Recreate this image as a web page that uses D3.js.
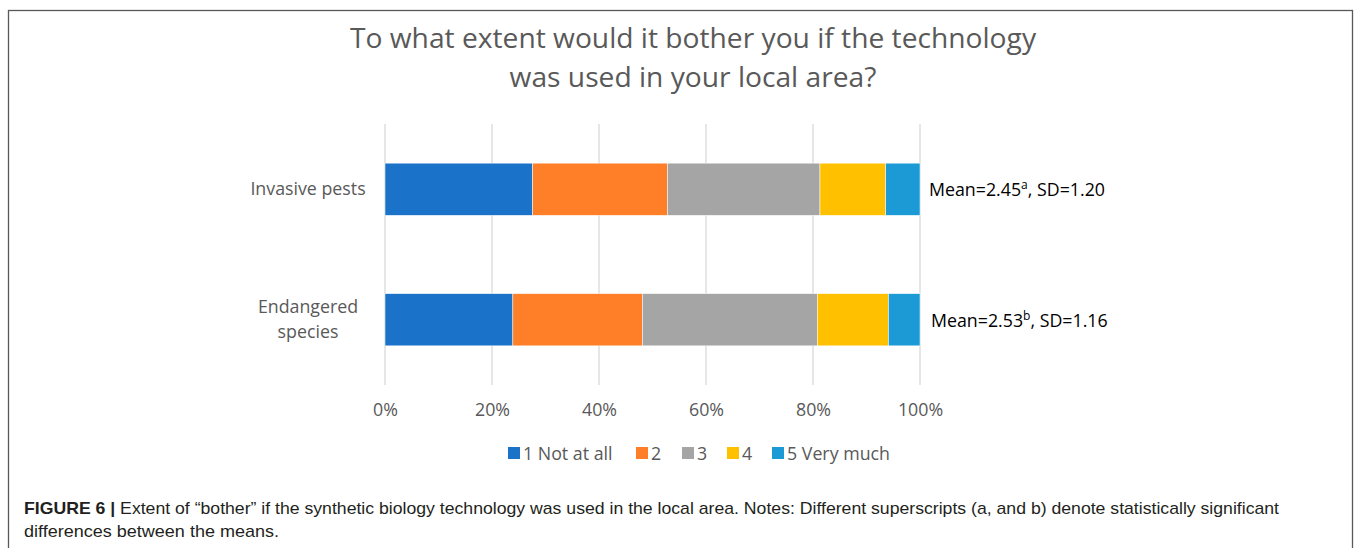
<!DOCTYPE html>
<html>
<head>
<meta charset="utf-8">
<script src="https://d3js.org/d3.v7.min.js"></script>
<style>
  body { margin: 0; background: #fff; }
  svg { display: block; }
</style>
</head>
<body>
<div id="chart"></div>
<script>
// dane (procenty)
const categories = ["Invasive pests", "Endangered species"];
const categoryLines = [["Invasive pests"], ["Endangered", "species"]];
const levels = ["1 Not at all", "2", "3", "4", "5 Very much"];
const invasive = [27.6, 25.2, 28.5, 12.3, 6.4];
const endangered = [23.9, 24.2, 32.7, 13.3, 5.9];
const means = ["2.45", "2.53"];
const meanSup = ["a", "b"];
const sds = ["1.20", "1.16"];
const ticks = [0, 20, 40, 60, 80, 100];
const colors = ["#1a73c8", "#fe7f27", "#a5a5a5", "#ffc000", "#1b9ad6"];

const width = 1354, height = 548;
const svg = d3.select("#chart").append("svg")
    .attr("width", width).attr("height", height);

// ramka
svg.append("rect")
    .attr("x", 8.5).attr("y", 10.5)
    .attr("width", 1344).attr("height", 560)
    .attr("fill", "none").attr("stroke", "#595959").attr("stroke-width", 1.3);

const chartFont = "'Open Sans', 'Noto Sans', sans-serif";
const fs = 17.8;

// tytuł
svg.append("text")
    .attr("x", 693).attr("y", 48)
    .attr("text-anchor", "middle")
    .attr("font-family", chartFont).attr("font-size", 28.2)
    .attr("fill", "#595959")
    .text("To what extent would it bother you if the technology");
svg.append("text")
    .attr("x", 693).attr("y", 87)
    .attr("text-anchor", "middle")
    .attr("font-family", chartFont).attr("font-size", 28.2)
    .attr("fill", "#595959")
    .text("was used in your local area?");

const x = d3.scaleLinear().domain([0, 100]).range([385, 920]);
const y = d3.scaleBand().domain(categories).range([124, 385]).paddingInner(0.6).paddingOuter(0.3);

// siatka
svg.selectAll(".grid")
    .data(ticks)
    .enter()
    .append("line")
    .attr("class", "grid")
    .attr("x1", d => x(d)).attr("x2", d => x(d))
    .attr("y1", 124).attr("y2", 385)
    .attr("stroke", "#d9d9d9").attr("stroke-width", 1.3);

// etykiety osi x
const xAxis = svg.append("g")
    .attr("transform", "translate(0,385)")
    .call(d3.axisBottom(x).tickValues(ticks).tickFormat(d => d + "%").tickSize(0).tickPadding(18));
xAxis.select(".domain").remove();
xAxis.selectAll("text")
    .attr("font-family", chartFont).attr("font-size", fs)
    .attr("fill", "#595959");

// słupki
const rows = [invasive, endangered];
rows.forEach((vals, i) => {
    let acc = 0;
    const segs = vals.map((v, j) => {
        const s = { start: acc, end: acc + v, color: colors[j] };
        acc += v;
        return s;
    });
    svg.selectAll(".seg" + i)
        .data(segs)
        .enter()
        .append("rect")
        .attr("class", "seg" + i)
        .attr("x", d => x(d.start))
        .attr("width", d => x(Math.min(d.end, 100)) - x(d.start))
        .attr("y", y(categories[i]))
        .attr("height", y.bandwidth())
        .attr("fill", d => d.color)
        .attr("stroke", "#fff").attr("stroke-width", 0.5);
});

// etykiety kategorii
categories.forEach((c, i) => {
    const lines = categoryLines[i];
    const cy = y(c) + y.bandwidth() / 2;
    const t = svg.append("text")
        .attr("text-anchor", "middle")
        .attr("font-family", chartFont).attr("font-size", fs)
        .attr("fill", "#595959");
    lines.forEach((l, k) => {
        t.append("tspan")
            .attr("x", 308)
            .attr("y", cy + 6 + (k - (lines.length - 1) / 2) * 25)
            .text(l);
    });
});

// średnie i SD
categories.forEach((c, i) => {
    const cy = y(c) + y.bandwidth() / 2;
    const t = svg.append("text")
        .attr("x", 929 + i * 2).attr("y", cy + 7)
        .attr("font-family", chartFont).attr("font-size", fs)
        .attr("fill", "#000");
    t.append("tspan").text("Mean=" + means[i]);
    t.append("tspan").attr("font-size", 12).attr("dy", -7).text(meanSup[i]);
    t.append("tspan").attr("dy", 7).text(", SD=" + sds[i]);
});

// legenda
const legendItems = [
    { label: levels[0], x: 508 },
    { label: levels[1], x: 636 },
    { label: levels[2], x: 682 },
    { label: levels[3], x: 727 },
    { label: levels[4], x: 772 }
];
const leg = svg.selectAll(".leg")
    .data(legendItems)
    .enter()
    .append("g")
    .attr("class", "leg")
    .attr("transform", d => `translate(${d.x},447)`);
leg.append("rect")
    .attr("width", 12).attr("height", 12)
    .attr("fill", (d, i) => colors[i]);
leg.append("text")
    .attr("x", 15).attr("y", 12.5)
    .attr("font-family", chartFont).attr("font-size", fs)
    .attr("fill", "#595959")
    .text(d => d.label);

// podpis
const capFont = "'Liberation Sans', Arial, sans-serif";
const cap = svg.append("text")
    .attr("x", 24).attr("y", 514)
    .attr("font-family", capFont).attr("font-size", 17)
    .attr("fill", "#231f20")
    .attr("textLength", 1255).attr("lengthAdjust", "spacingAndGlyphs");
cap.append("tspan").attr("font-weight", "bold").text("FIGURE 6 | ");
cap.append("tspan").text("Extent of \u201cbother\u201d if the synthetic biology technology was used in the local area. Notes: Different superscripts (a, and b) denote statistically significant");
svg.append("text")
    .attr("x", 24).attr("y", 537)
    .attr("font-family", capFont).attr("font-size", 17)
    .attr("fill", "#231f20")
    .attr("textLength", 255).attr("lengthAdjust", "spacingAndGlyphs")
    .text("differences between the means.");
</script>
</body>
</html>
